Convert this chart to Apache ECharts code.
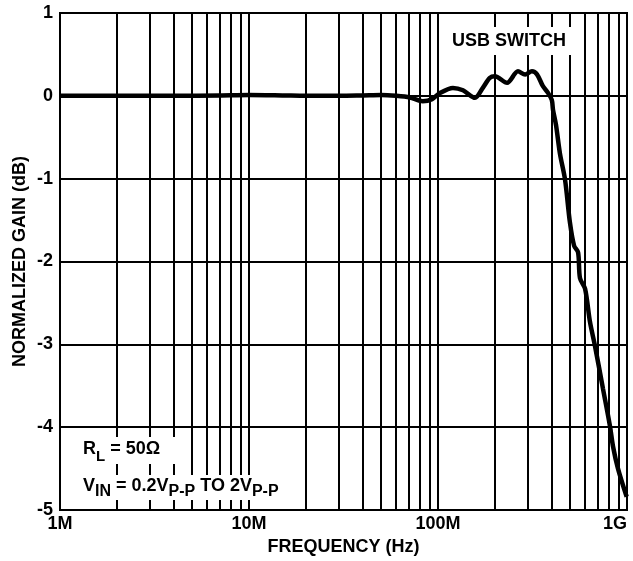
<!DOCTYPE html>
<html>
<head>
<meta charset="utf-8">
<script src="https://cdn.jsdelivr.net/npm/echarts@6/dist/echarts.min.js"></script>
<style>
html,body{margin:0;padding:0;background:#fff;}
#chart{width:633px;height:561px;}
</style>
</head>
<body>
<div id="chart"></div>
<script>
// Frequency (Hz) and normalized gain (dB)
var freqHz = [1e6, 2e6, 4e6, 7e6, 1e7, 1.5e7, 2e7, 3e7, 4e7, 5e7, 6e7, 7.1e7, 8.3e7, 9.3e7, 1.025e8, 1.2e8, 1.356e8, 1.57e8, 1.73e8, 1.88e8, 2.0e8, 2.32e8, 2.65e8, 2.89e8, 3.14e8, 3.34e8, 3.59e8, 3.82e8, 4.0e8, 4.06e8, 4.21e8, 4.42e8, 4.7e8, 4.99e8, 5.25e8, 5.51e8, 5.64e8, 6.0e8, 6.37e8, 6.77e8, 7.47e8, 8.13e8, 8.43e8, 8.96e8, 9.96e8];
var gainDb = [0.0, 0.0, 0.0, 0.005, 0.01, 0.005, 0.0, 0.0, 0.005, 0.01, 0.0, -0.02, -0.065, -0.04, 0.035, 0.096, 0.067, -0.024, 0.1, 0.217, 0.236, 0.157, 0.296, 0.257, 0.296, 0.26, 0.116, 0.036, -0.05, -0.17, -0.35, -0.7, -1.01, -1.53, -1.81, -1.89, -2.2, -2.33, -2.73, -3.02, -3.54, -3.99, -4.23, -4.5, -4.84];
var xTickLabels = {6: '1M', 7: '10M', 8: '100M', 9: '1G'};
var minorGridFreqs = [];
[1e6, 1e7, 1e8].forEach(function (d) { for (var k = 2; k <= 9; k++) minorGridFreqs.push(k * d); });
var yTicks = [-5, -4, -3, -2, -1, 0, 1];

var FONT = '"Liberation Sans", Arial, sans-serif';
var FS = 18;
var chart = echarts.init(document.getElementById('chart'));
var seriesData = freqHz.map(function (f, i) { return [f, gainDb[i]]; });

chart.setOption({
  animation: false,
  backgroundColor: '#fff',
  grid: { left: 60, right: 6, top: 13, bottom: 51, show: true, borderColor: '#000', borderWidth: 2, containLabel: false },
  xAxis: {
    type: 'log', logBase: 10, min: 1e6, max: 1e9,
    name: 'FREQUENCY (Hz)', nameLocation: 'middle', nameGap: 28, nameMoveOverlap: false,
    nameTextStyle: { fontFamily: FONT, fontWeight: 'bold', fontSize: FS, color: '#000' },
    axisLine: { show: true, lineStyle: { color: '#000', width: 2 } },
    axisTick: { show: false },
    axisLabel: {
      fontFamily: FONT, fontWeight: 'bold', fontSize: FS, color: '#000', margin: 5,
      alignMinLabel: 'left', alignMaxLabel: 'right',
      formatter: function (v) { return xTickLabels[Math.round(Math.log10(v))] || ''; }
    },
    splitLine: { show: true, lineStyle: { color: '#000', width: 2 } },
    minorTick: { show: false }, minorSplitLine: { show: false }
  },
  yAxis: {
    type: 'value', min: yTicks[0], max: yTicks[yTicks.length - 1], interval: 1,
    name: 'NORMALIZED GAIN (dB)', nameLocation: 'middle', nameGap: 31, nameMoveOverlap: false,
    nameTextStyle: { fontFamily: FONT, fontWeight: 'bold', fontSize: FS, color: '#000' },
    axisLine: { show: true, lineStyle: { color: '#000', width: 2 } },
    axisTick: { show: false },
    axisLabel: { fontFamily: FONT, fontWeight: 'bold', fontSize: FS, color: '#000', margin: 7 },
    splitLine: { show: true, lineStyle: { color: '#000', width: 2 } }
  },
  series: [{
    type: 'line',
    data: seriesData,
    showSymbol: false,
    smooth: 0.3,
    lineStyle: { color: '#000', width: 4.5 },
    itemStyle: { color: '#000' },
    z: 3,
    markLine: {
      silent: true, symbol: ['none', 'none'], label: { show: false },
      lineStyle: { color: '#000', width: 2, type: 'solid' },
      data: minorGridFreqs.map(function (f) { return { xAxis: f }; })
    }
  }],
  graphic: [
    { type: 'text', left: 443, top: 27, z: 100,
      style: { text: 'USB SWITCH', font: 'bold ' + FS + 'px ' + FONT, fill: '#000', backgroundColor: '#fff', padding: [5, 8, 5, 9] } },
    { type: 'text', left: 72, top: 437, z: 100,
      style: {
        text: '{m|R}{s|L}{m| = 50Ω}',
        backgroundColor: '#fff', padding: [3, 22, 4, 11],
        rich: {
          m: { font: 'bold ' + FS + 'px ' + FONT, fill: '#000', lineHeight: 20, verticalAlign: 'top' },
          s: { font: 'bold 15px ' + FONT, fill: '#000', lineHeight: 15, verticalAlign: 'top', padding: [9, 0, 0, 0] }
        }
      } },
    { type: 'text', left: 72, top: 475, z: 100,
      style: {
        text: '{m|V}{s|IN}{m| = 0.2V}{s|P-P}{m| TO 2V}{s|P-P}',
        backgroundColor: '#fff', padding: [2, 14, 3, 11],
        rich: {
          m: { font: 'bold ' + FS + 'px ' + FONT, fill: '#000', lineHeight: 20, verticalAlign: 'top' },
          s: { font: 'bold 16px ' + FONT, fill: '#000', lineHeight: 16, verticalAlign: 'top', padding: [7, 0, 0, 0] }
        }
      } }
  ]
});
</script>
</body>
</html>
